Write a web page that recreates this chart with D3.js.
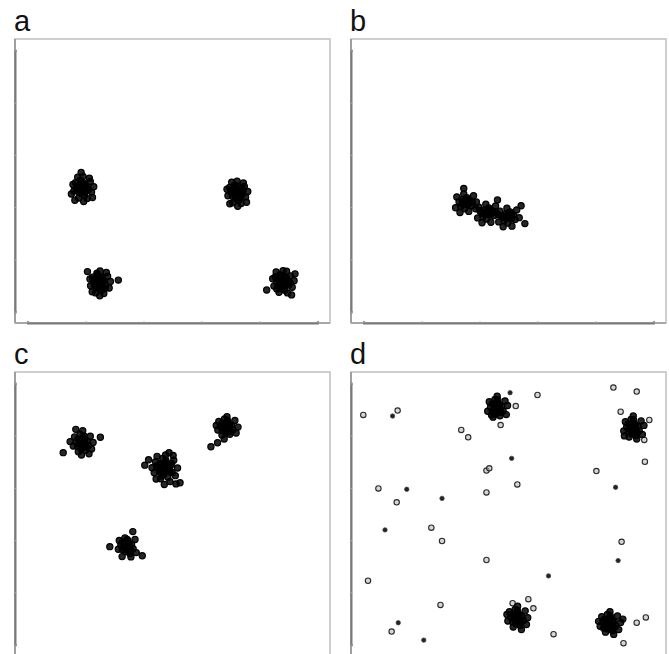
<!DOCTYPE html>
<html>
<head>
<meta charset="utf-8">
<script src="https://cdn.jsdelivr.net/npm/d3@7"></script>
<style>
  body { margin: 0; background: #fff; }
  svg { display: block; }
</style>
</head>
<body>
<div id="chart"></div>
<script>
const width = 669;
const height = 654;

// point positions, in percent of each panel box (x from left, y from bottom)
const labels = ["a", "b", "c", "d"];

const pointsA = [
  // cluster upper left
  [21.3,47.5],[20.5,48.6],[22.4,46.8],[21.9,49.1],[20.1,46.3],[22.8,48.2],[19.6,47.9],[21.0,45.6],[23.3,47.0],[20.8,50.2],
  [22.1,44.9],[19.2,49.4],[23.9,49.8],[18.7,46.5],[24.3,46.1],[21.6,51.6],[20.2,44.0],[22.9,43.8],[18.4,48.8],[25.0,48.0],
  [19.9,51.3],[23.6,51.0],[21.8,42.8],[17.9,45.4],[24.6,44.2],[21.0,53.0],[19.0,43.2],[22.5,47.9],[20.9,47.0],[21.7,48.3],
  [21.0,48.0],[21.8,47.1],[20.6,47.2],[22.0,48.0],[21.4,46.5],[20.9,48.8],[22.3,46.2],[20.3,48.1],[21.5,49.4],[19.5,46.8],
  // cluster upper right
  [70.2,45.8],[69.4,46.9],[71.3,45.1],[70.8,47.4],[69.0,44.6],[71.7,46.5],[68.5,46.2],[70.0,43.9],[72.2,45.3],[69.7,48.5],
  [71.0,43.2],[68.1,47.7],[72.8,48.1],[67.6,44.8],[73.2,44.4],[70.5,49.9],[69.1,42.3],[71.8,42.1],[67.3,47.1],[73.9,46.3],
  [68.8,49.6],[72.5,49.3],[70.7,41.1],[68.2,42.0],[73.5,42.5],[70.0,46.0],[71.1,46.4],[69.8,45.2],
  [69.9,46.4],[70.7,45.3],[69.3,45.5],[71.0,46.8],[70.3,44.6],[69.5,47.6],[71.5,44.2],[68.9,46.0],[70.6,48.2],[72.4,46.9],
  // cluster lower left
  [26.7,14.1],[25.9,15.2],[27.6,13.4],[27.2,15.8],[25.5,12.9],[28.3,14.9],[24.9,14.6],[26.4,12.2],[28.8,13.0],[26.1,16.9],
  [27.5,11.5],[24.6,16.1],[29.4,16.5],[24.0,13.1],[29.9,12.3],[27.0,18.3],[25.6,10.6],[28.2,10.4],[23.8,15.5],[30.3,14.6],
  [23.0,18.1],[32.8,15.1],[26.9,9.6],[24.5,11.0],[29.0,17.8],[26.3,14.5],[27.3,14.0],[25.8,13.6],
  [26.4,14.8],[27.1,13.5],[25.9,13.9],[27.9,14.4],[26.6,12.9],[25.5,15.9],[27.8,16.0],[25.2,13.4],[28.6,12.2],[26.0,17.5],
  // cluster lower right
  [84.8,14.1],[84.0,15.1],[85.8,13.3],[85.3,15.9],[83.5,13.0],[86.4,14.8],[83.0,14.5],[84.6,12.1],[86.9,13.4],[84.1,17.0],
  [85.6,11.5],[82.6,16.2],[87.4,16.6],[82.2,13.0],[88.0,12.6],[85.1,18.4],[83.8,10.8],[86.5,10.6],[81.8,15.6],[88.6,14.9],
  [82.9,18.0],[87.8,9.9],[79.9,11.6],[86.2,18.2],[88.9,17.3],[84.4,14.4],[85.4,14.0],[83.9,13.7],
  [84.5,14.8],[85.3,13.6],[84.0,13.8],[85.9,14.8],[84.8,12.9],[83.4,15.7],[86.1,16.1],[83.1,12.0],[87.3,14.2],[84.6,16.4]
];

const pointsB = [
  [36.3,42.3],[35.4,43.5],[37.2,41.6],[36.8,44.1],[34.9,41.0],[37.9,43.0],[34.3,42.7],[36.0,40.2],[38.4,41.4],[35.8,45.4],
  [33.6,44.4],[38.9,44.8],[33.2,40.6],[35.8,47.4],[37.4,39.3],[34.6,38.9],[36.6,42.9],[35.6,41.8],
  [43.3,38.7],[42.4,39.8],[44.2,38.0],[43.8,40.5],[41.9,37.4],[44.9,39.4],[41.3,39.1],[43.0,36.6],[45.4,37.8],[42.8,41.8],
  [40.6,40.8],[45.9,41.2],[40.2,37.0],[44.4,35.5],[41.6,35.3],[43.6,39.2],[42.6,38.3],[39.8,42.6],[46.5,43.3],
  [50.0,37.3],[49.1,38.4],[50.9,36.6],[50.5,39.1],[48.6,36.0],[51.6,38.0],[48.0,37.7],[49.7,35.2],[52.1,36.4],[49.5,40.4],
  [47.3,39.4],[52.6,39.8],[46.9,35.6],[51.1,34.1],[48.3,33.9],[53.4,37.1],[55.2,35.0],[54.0,41.3],[50.3,37.8],
  [36.0,42.9],[36.9,41.8],[35.3,42.0],[37.2,43.4],[42.9,39.3],[43.9,38.2],[42.2,38.5],[44.3,39.8],[39.6,40.2],
  [40.9,39.5],[49.7,37.9],[50.6,36.9],[49.0,37.0],[51.0,38.4],[46.8,38.1],[47.9,37.5],[38.5,42.4],[45.9,39.0]
];

const pointsC = [
  [21.2,75.0],[20.4,76.1],[22.1,74.3],[21.7,76.8],[19.9,73.8],[22.8,75.7],[19.4,75.4],[21.0,73.0],[23.3,74.1],[20.6,78.0],
  [22.3,72.4],[18.9,77.1],[23.9,77.4],[18.5,73.9],[24.3,72.9],[21.5,79.3],[20.1,71.9],[15.3,71.6],[27.1,77.0],[19.3,79.8],
  [21.1,70.8],[23.5,71.2],[17.5,75.5],[24.8,75.2],[21.4,75.4],[20.8,74.6],
  [20.9,75.6],[21.7,74.5],[20.4,74.7],[22.1,75.9],[21.3,73.8],[20.0,76.4],[22.6,73.6],[21.9,77.5],
  [47.5,66.2],[46.5,67.5],[48.6,65.3],[48.0,68.1],[45.9,64.8],[49.3,66.9],[45.2,66.6],[47.2,63.9],[49.9,64.6],[46.9,69.6],
  [48.5,62.9],[44.6,68.4],[50.4,68.9],[44.2,64.5],[50.9,63.5],[47.8,70.8],[46.2,62.4],[49.2,61.4],[43.5,66.3],[51.6,66.2],
  [45.1,70.3],[50.2,70.6],[47.4,60.4],[44.8,62.3],[52.4,61.0],[41.2,67.2],[42.4,69.1],[48.9,71.6],[51.1,60.6],[47.0,66.6],
  [48.1,66.0],[46.8,65.5],[48.3,67.3],[46.3,65.7],[49.0,65.7],
  [47.2,66.9],[48.1,65.6],[46.6,66.0],[48.5,67.0],[47.6,64.8],[46.0,67.7],[49.2,64.9],[45.8,65.1],[47.9,68.9],[46.5,63.4],
  [49.7,67.7],[44.9,66.8],
  [67.1,80.6],[66.3,81.7],[68.0,79.9],[67.6,82.4],[65.8,79.4],[68.7,81.3],[65.2,81.0],[66.9,78.6],[69.2,79.7],[66.5,83.5],
  [68.2,78.1],[64.7,82.6],[69.8,82.9],[64.4,79.6],[70.2,78.5],[67.3,84.3],[65.7,77.8],[62.2,73.7],[64.3,75.1],[66.4,76.4],
  [70.8,80.6],[63.9,81.2],[67.8,80.2],[66.6,80.9],
  [66.8,81.2],[67.6,80.1],[66.3,80.3],[68.1,81.4],[67.2,79.3],[65.9,82.0],[68.6,79.0],[67.4,83.0],
  [35.4,38.7],[34.6,39.8],[36.3,38.0],[35.9,40.5],[34.1,37.5],[37.0,39.4],[33.6,39.1],[35.2,36.7],[37.5,37.8],[34.9,41.6],
  [36.5,36.1],[33.1,40.7],[38.1,41.0],[32.8,37.6],[38.5,36.4],[30.1,38.5],[37.4,43.8],[40.4,35.3],[34.0,35.0],[36.8,34.9],
  [35.7,39.0],[35.1,38.3],
  [35.1,39.3],[35.9,38.2],[34.6,38.5],[36.2,39.5],[35.4,37.4],[34.0,40.1],[36.8,37.2],[35.6,41.0]
];

const pointsD = [
  [46.2,87.2],[45.4,88.3],[47.1,86.5],[46.7,89.0],[44.9,86.0],[47.8,87.9],[44.3,87.6],[46.0,85.2],[48.3,86.3],[45.7,90.3],
  [47.3,84.6],[43.9,89.5],[48.9,89.8],[43.4,86.2],[49.3,85.0],[46.4,91.5],[45.1,84.1],[49.7,88.2],[44.6,84.9],
  [46.3,87.5],[45.9,86.9],
  [45.9,87.8],[46.7,86.7],[45.4,86.9],[47.1,88.4],[46.2,85.9],[44.9,88.8],[47.6,85.8],[46.6,90.2],
  [89.4,80.2],[88.6,81.3],[90.3,79.5],[89.9,82.0],[88.1,79.0],[91.0,80.9],[87.5,80.6],[89.2,78.2],[91.5,79.3],[88.9,83.3],
  [90.5,77.6],[87.1,82.5],[92.1,82.8],[86.6,79.2],[92.5,78.0],[89.6,84.5],[88.3,77.1],[86.8,77.5],[93.0,81.2],[90.7,76.4],
  [89.5,80.5],[88.8,79.8],
  [89.1,80.8],[89.9,79.7],[88.6,79.9],[90.3,81.3],[89.4,78.9],[88.0,81.7],[90.8,78.7],[89.7,83.1],
  [52.6,13.3],[51.8,14.4],[53.5,12.6],[53.1,15.1],[51.3,12.1],[54.2,14.0],[50.7,13.7],[52.4,11.3],[54.7,12.4],[52.1,16.4],
  [53.7,10.7],[50.3,15.6],[55.3,15.9],[49.8,12.3],[55.7,11.1],[52.9,17.5],[51.5,10.2],[54.1,9.3],[49.5,14.6],[56.1,13.5],
  [52.5,13.6],[52.0,12.9],
  [52.3,13.9],[53.1,12.8],[51.8,13.0],[53.6,14.3],[52.6,12.0],[51.1,14.8],[54.0,11.9],[52.8,16.0],
  [81.9,11.5],[81.1,12.6],[82.8,10.8],[82.4,13.3],[80.6,10.3],[83.5,12.2],[80.0,11.9],[81.7,9.5],[84.0,10.6],[81.4,14.6],
  [83.0,8.9],[79.6,13.8],[84.6,14.1],[79.1,10.5],[85.0,9.3],[82.2,15.6],[80.8,8.4],[78.6,12.2],[85.6,11.8],[83.4,7.6],
  [82.0,11.8],[81.5,11.2],[86.3,13.0],
  [81.6,12.1],[82.4,11.0],[81.1,11.2],[83.0,12.4],[81.9,10.2],[80.4,12.9],[83.6,10.0],[82.3,14.2],[80.2,9.8]
];

// scattered single points in panel d
const strayOpenD = [
  [3.9,84.9],[14.8,86.4],[35.0,79.6],[37.2,77.0],[59.2,91.9],[83.3,94.5],[90.7,93.1],[93.3,68.4],
  [43.0,65.3],[43.9,66.1],[52.8,60.4],[43.0,57.6],[77.9,65.1],[8.7,59.0],[14.5,54.1],[25.5,45.2],
  [28.9,40.5],[43.0,33.8],[85.9,40.2],[5.4,26.5],[28.4,18.0],[12.9,8.6],[64.3,7.7],
  [47.5,81.3],[52.3,88.0],[85.6,86.0],[94.7,83.1],[93.1,76.1],[51.3,18.6],[56.3,20.0],[57.9,16.8],
  [90.7,11.7],[93.6,13.6],[86.5,4.5]
];
const strayDarkD = [
  [13.2,84.5],[50.5,92.7],[17.7,58.7],[28.9,55.5],[10.8,44.4],[51.0,69.6],[62.7,28.2],[84.8,33.6],
  [15.0,11.7],[23.1,5.6],[84.0,59.4]
];

const panelData = [
  { points: pointsA, stray: [], dark: [] },
  { points: pointsB, stray: [], dark: [] },
  { points: pointsC, stray: [], dark: [] },
  { points: pointsD, stray: strayOpenD, dark: strayDarkD }
];

const panelW = 315;
const panelH = 284;
const panelLeft = [15, 351];
const panelTop = [39, 372];

const svg = d3.select("#chart").append("svg")
  .attr("width", width)
  .attr("height", height);

svg.append("defs").append("filter")
  .attr("id", "soft")
  .append("feGaussianBlur")
  .attr("stdDeviation", 0.6);

panelData.forEach((p, i) => {
  const left = panelLeft[i % 2];
  const top = panelTop[Math.floor(i / 2)];

  const x = d3.scaleLinear().domain([0, 100]).range([0, panelW]);
  const y = d3.scaleLinear().domain([0, 100]).range([panelH, 0]);
  // axis runs over the inner part of the box, like an R plot
  const xa = d3.scaleLinear().domain([0, 1]).range([x(4), x(96)]);
  const ya = d3.scaleLinear().domain([0, 1]).range([y(4), y(96)]);

  const g = svg.append("g").attr("transform", `translate(${left},${top})`);

  svg.append("text")
    .attr("x", left - 1)
    .attr("y", top - 8)
    .attr("font-family", "Liberation Sans, Arial, sans-serif")
    .attr("font-size", 29)
    .attr("fill", "#111")
    .text(labels[i]);

  g.append("rect")
    .attr("width", panelW)
    .attr("height", panelH)
    .attr("fill", "none")
    .attr("stroke", "#c4c4c4")
    .attr("stroke-width", 1.6);

  // left and bottom lines are darker
  g.append("line")
    .attr("x1", 0).attr("x2", 0)
    .attr("y1", 0).attr("y2", panelH)
    .attr("stroke", "#9a9a9a").attr("stroke-width", 1.8);
  g.append("line")
    .attr("x1", 0).attr("x2", panelW)
    .attr("y1", panelH).attr("y2", panelH)
    .attr("stroke", "#a8a8a8").attr("stroke-width", 1.8);

  const xAxis = g.append("g")
    .attr("transform", `translate(0,${panelH})`)
    .call(d3.axisBottom(xa).ticks(5).tickSize(-2).tickFormat(""));
  const yAxis = g.append("g")
    .call(d3.axisLeft(ya).ticks(5).tickSize(-2).tickFormat(""));
  [xAxis, yAxis].forEach(ax => {
    ax.select(".domain").attr("stroke", "#7a7a7a").attr("stroke-width", 2);
    ax.selectAll(".tick line").attr("stroke", "#b0b0b0");
  });

  const pts = g.append("g").attr("filter", "url(#soft)");

  // lone open circles go underneath
  pts.selectAll("circle.stray")
    .data(p.stray)
    .enter().append("circle")
    .attr("class", "stray")
    .attr("cx", d => x(d[0]))
    .attr("cy", d => y(d[1]))
    .attr("r", 2.7)
    .attr("fill", "#bbb")
    .attr("fill-opacity", 0.6)
    .attr("stroke", "#2a2a2a")
    .attr("stroke-width", 1.1);

  // clustered points
  pts.selectAll("circle.pt")
    .data(p.points)
    .enter().append("circle")
    .attr("class", "pt")
    .attr("cx", d => x(d[0]))
    .attr("cy", d => y(d[1]))
    .attr("r", 3.1)
    .attr("fill", "#000")
    .attr("fill-opacity", 0.85)
    .attr("stroke", "#000")
    .attr("stroke-width", 1.2);

  pts.selectAll("circle.dark")
    .data(p.dark)
    .enter().append("circle")
    .attr("class", "dark")
    .attr("cx", d => x(d[0]))
    .attr("cy", d => y(d[1]))
    .attr("r", 2.2)
    .attr("fill", "#222")
    .attr("stroke", "#444")
    .attr("stroke-width", 0.8);
});
</script>
</body>
</html>
